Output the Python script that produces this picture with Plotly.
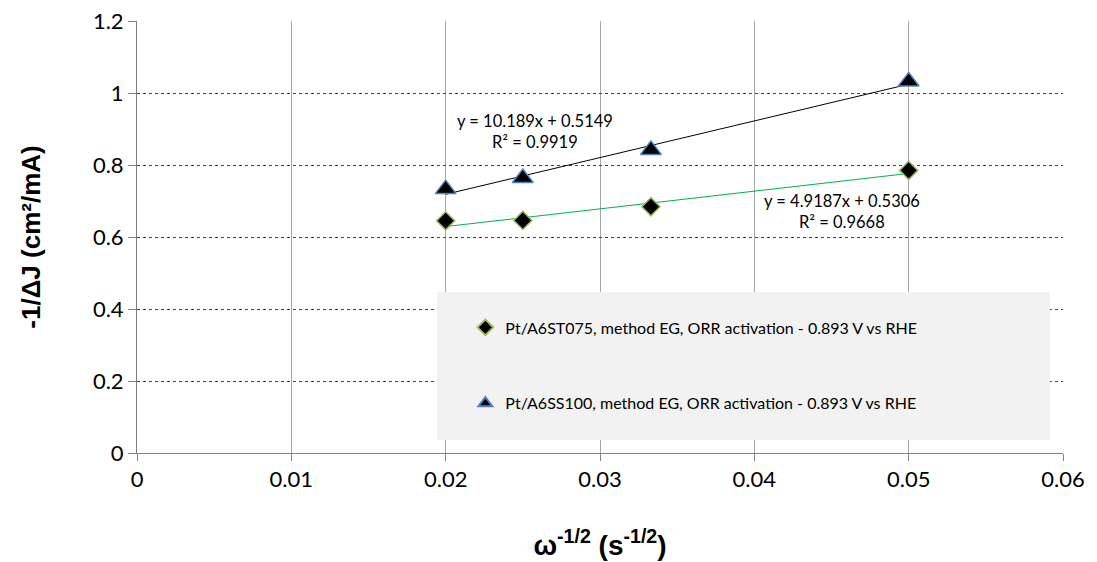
import plotly.graph_objects as go

x_vals = [0.02, 0.025, 0.0333, 0.05]
y_st075 = [0.645, 0.646, 0.684, 0.785]
y_ss100 = [0.733, 0.764, 0.842, 1.032]
name_st075 = "Pt/A6ST075, method EG, ORR activation - 0.893 V vs RHE"
name_ss100 = "Pt/A6SS100, method EG, ORR activation - 0.893 V vs RHE"
fit_st075 = [4.9187, 0.5306]
fit_ss100 = [10.189, 0.5149]
r2_st075 = 0.9668
r2_ss100 = 0.9919
x_ticks = [0, 0.01, 0.02, 0.03, 0.04, 0.05, 0.06]
x_tick_text = ["0", "0.01", "0.02", "0.03", "0.04", "0.05", "0.06"]
y_ticks = [0, 0.2, 0.4, 0.6, 0.8, 1.0, 1.2]
y_tick_text = ["0", "0.2", "0.4", "0.6", "0.8", "1", "1.2"]

fx = [min(x_vals), max(x_vals)]
fig = go.Figure()
fig.add_trace(go.Scatter(x=fx, y=[fit_ss100[0]*v + fit_ss100[1] for v in fx], mode="lines",
                         line=dict(color="black", width=1), showlegend=False, hoverinfo="skip"))
fig.add_trace(go.Scatter(x=fx, y=[fit_st075[0]*v + fit_st075[1] for v in fx], mode="lines",
                         line=dict(color="#00b050", width=1), showlegend=False, hoverinfo="skip"))
fig.add_trace(go.Scatter(x=x_vals, y=y_st075, mode="markers", name=name_st075, legendgroup="a",
                         marker=dict(symbol="diamond", size=14, color="black",
                                     line=dict(color="#9bbb59", width=1.5))))
fig.add_trace(go.Scatter(x=x_vals, y=y_ss100, mode="markers", name=name_ss100, legendgroup="b",
                         marker=dict(symbol="triangle-up", size=18, color="black",
                                     line=dict(color="#4f81bd", width=1.5))))

fig.add_shape(type="rect", xref="x", yref="y", x0=0.01944, x1=0.05916, y0=0.036, y1=0.447,
              fillcolor="#f2f2f2", line=dict(width=0), layer="above")

fig.add_annotation(x=0.0258, y=0.894, xref="x", yref="y",
                   text=f"y = {fit_ss100[0]}x + {fit_ss100[1]}<br>R² = {r2_ss100}",
                   showarrow=False, font=dict(family="Lato, Open Sans", size=16.5, color="black"), align="center")
fig.add_annotation(x=0.04568, y=0.672, xref="x", yref="y",
                   text=f"y = {fit_st075[0]}x + {fit_st075[1]}<br>R² = {r2_st075}",
                   showarrow=False, font=dict(family="Lato, Open Sans", size=16.5, color="black"), align="center")

fig.update_layout(
    width=1097, height=562,
    margin=dict(l=129, r=42, t=13, b=117, autoexpand=False),
    paper_bgcolor="white", plot_bgcolor="white",
    font=dict(family="Lato, Open Sans", color="black"),
    legend=dict(x=0.3546, y=0.33, xanchor="left", yanchor="top", bgcolor="rgba(0,0,0,0)",
                font=dict(family="Lato, Open Sans", size=16, color="black"),
                tracegroupgap=52, itemsizing="constant"),
    xaxis=dict(range=[0, 0.06], tickvals=x_ticks, ticktext=x_tick_text, automargin=False,
               ticklabeloverflow="allow",
               showgrid=True, gridcolor="#a6a6a6", gridwidth=1,
               showline=True, linecolor="#808080", linewidth=1,
               ticks="outside", ticklen=7, tickcolor="#808080",
               tickfont=dict(size=22), zeroline=False,
               title=dict(text="<b>ω<sup>-1/2</sup> (s<sup>-1/2</sup>)</b>",
                          font=dict(family="Liberation Sans, Arial", size=28), standoff=43)),
    yaxis=dict(range=[0, 1.2], tickvals=y_ticks, ticktext=y_tick_text, automargin=False,
               ticklabeloverflow="allow",
               showgrid=True, gridcolor="#404040", gridwidth=1, griddash="dot",
               showline=True, linecolor="#808080", linewidth=1,
               ticks="outside", ticklen=8, tickcolor="#808080",
               tickfont=dict(size=22), zeroline=False,
               title=dict(text="<b>-1/ΔJ (cm²/mA)</b>",
                          font=dict(family="Liberation Sans, Arial", size=26), standoff=44)),
)
fig.write_html("out.html")
